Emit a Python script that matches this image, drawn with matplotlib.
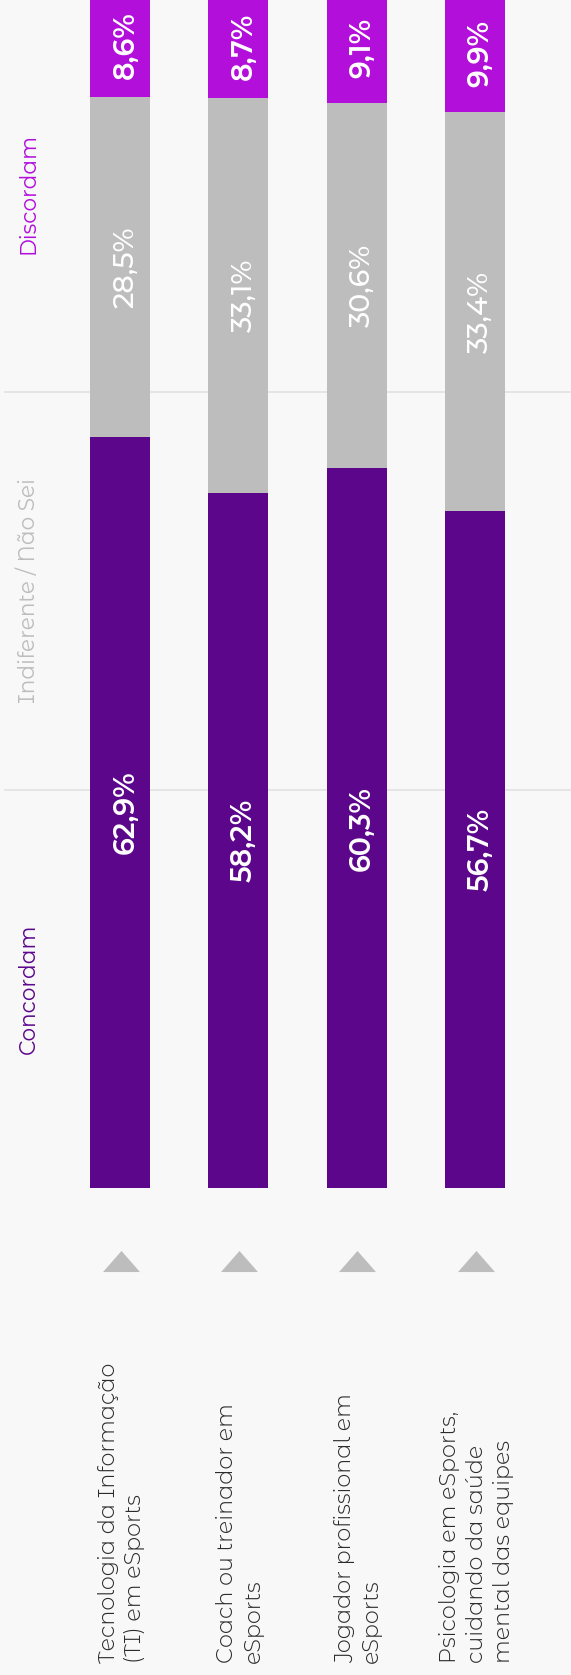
import matplotlib
matplotlib.use("Agg")
import matplotlib.pyplot as plt
import matplotlib.transforms as mtransforms
from matplotlib.path import Path
import numpy as np

# ---------------- data ----------------
categories = [
    "Tecnologia da Informação\n(TI) em eSports",
    "Coach ou treinador em\neSports",
    "Jogador profissional em\neSports",
    "Psicologia em eSports,\ncuidando da saúde\nmental das equipes",
]
concordam = [62.9, 58.2, 60.3, 56.7]
indiferente = [28.5, 33.1, 30.6, 33.4]
discordam = [8.6, 8.7, 9.1, 9.9]
series_names = ["Concordam", "Indiferente / Não Sei", "Discordam"]
grid_values = [100 / 3, 200 / 3]

# ---------------- style ----------------
C_PURPLE = "#5c068c"
C_GRAY = "#bdbdbd"
C_MAGENTA = "#b20fdb"
BG = "#f8f8f8"
FONT = ["Montserrat Alternates", "DejaVu Sans"]

W, H = 571, 1675
fig = plt.figure(figsize=(W / 100, H / 100), dpi=100, facecolor=BG)

# axes: value 0 at y=1188 px, value 100 at y=-6 px (from top)
y0_px, y100_px = 1188, -6
ax = fig.add_axes([0, (H - y0_px) / H, 1, (y0_px - y100_px) / H])
ax.set_facecolor(BG)
spacing = 118.3
x_first = 120.0
for s in ax.spines.values():
    s.set_visible(False)

x = np.arange(len(categories))
bw = 60 / spacing
px = 1 / spacing  # one pixel in data-x units

for g in grid_values:
    ax.axhline(g, xmin=5 / W, xmax=1, color="#e2e2e2", lw=1.2, zorder=0)

ax.bar(x, concordam, width=bw, color=C_PURPLE, zorder=2)
ax.bar(x, indiferente, width=bw, bottom=concordam, color=C_GRAY, zorder=2)
bottom3 = np.array(concordam) + np.array(indiferente)
ax.bar(x, discordam, width=bw, bottom=bottom3, color=C_MAGENTA, zorder=2)

ax.set_ylim(0, 100)
ax.set_xlim((0 - x_first) / spacing, (W - x_first) / spacing)
ax.set_xticks([])
ax.set_yticks([])

def fmt(v):
    return f"{v:.1f}".replace(".", ",") + "%"

dx = 5.5 * px
for i in range(len(categories)):
    ax.text(x[i] + dx, concordam[i] / 2, fmt(concordam[i]), rotation=90,
            ha="center", va="center", color="white", fontsize=20.5,
            family=FONT, weight=600, zorder=3)
    ax.text(x[i] + dx, concordam[i] + indiferente[i] / 2, fmt(indiferente[i]),
            rotation=90, ha="center", va="center", color="white", fontsize=20.5,
            family=FONT, weight=500, zorder=3)
    ax.text(x[i] + dx, bottom3[i] + discordam[i] / 2, fmt(discordam[i]),
            rotation=90, ha="center", va="center", color="white", fontsize=20.5,
            family=FONT, weight=600, zorder=3, clip_on=False)

# series legend labels at left, centred in thirds
lx = (28 - x_first) / spacing
ax.text(lx, 100 * 5 / 6, series_names[2], rotation=90, ha="center", va="center",
        color=C_MAGENTA, fontsize=15.6, family=FONT, weight=400)
ax.text(lx, 100 * 3 / 6, series_names[1], rotation=90, ha="center", va="center",
        color=C_GRAY, fontsize=15.6, family=FONT, weight=400)
ax.text(lx, 100 * 1 / 6, series_names[0], rotation=90, ha="center", va="center",
        color=C_PURPLE, fontsize=15.6, family=FONT, weight=400)

# triangles below bars
tri = Path([(-1, -0.57), (1, -0.57), (0, 0.57), (-1, -0.57)],
           [Path.MOVETO, Path.LINETO, Path.LINETO, Path.CLOSEPOLY])
tri_y = (y0_px - 1261.4) / ((y0_px - y100_px) / 100)
ax.scatter(x + 0.8 * px, [tri_y] * len(x), marker=tri, s=(37 * 0.72) ** 2,
           color=C_GRAY, clip_on=False, zorder=3, linewidths=0)

# category labels
trans = mtransforms.blended_transform_factory(ax.transData, fig.transFigure)
for i, lab in enumerate(categories):
    ax.text(x[i] + 1.5 * px, (H - 1663) / H, lab, rotation=90, ha="center", va="bottom",
            multialignment="left", transform=trans, color="#2a2a2a",
            fontsize=16, family=FONT, weight=300, linespacing=1.34)

fig.savefig("out.png", dpi=100, facecolor=BG)
